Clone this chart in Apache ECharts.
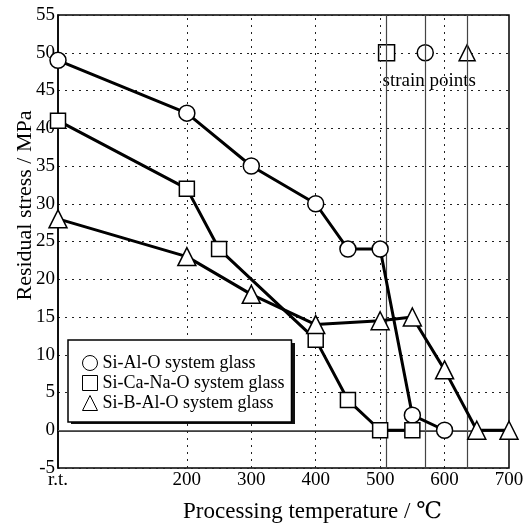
<!DOCTYPE html>
<html>
<head>
<meta charset="utf-8">
<script src="https://cdn.jsdelivr.net/npm/echarts@6/dist/echarts.min.js"></script>
<style>
  html, body { margin: 0; padding: 0; background: #fff; }
  #main { width: 529px; height: 526px; }
</style>
</head>
<body>
<div id="main"></div>
<script>
// data
var alTemps = [0, 200, 300, 400, 450, 500, 550, 600];
var alStress = [49, 42, 35, 30, 24, 24, 2, 0];
var caTemps = [0, 200, 250, 400, 450, 500, 550];
var caStress = [41, 32, 24, 12, 4, 0, 0];
var bTemps = [0, 200, 300, 400, 500, 550, 600, 650, 700];
var bStress = [28, 23, 18, 14, 14.5, 15, 8, 0, 0];
var strainTemps = [510, 570, 635];   // Si-Ca-Na-O, Si-Al-O, Si-B-Al-O
var strainSymbols = ['rect', 'circle', 'triangle'];
var strainY = 50;
var gridTemps = [200, 300, 400, 500, 600];
var seriesNames = ['Si-Al-O system glass', 'Si-Ca-Na-O system glass', 'Si-B-Al-O system glass'];

var serif = '"Liberation Serif", "DejaVu Serif", serif';

var chartDom = document.getElementById('main');
var myChart = echarts.init(chartDom);

function pairs(xs, ys) {
    return xs.map(function (x, i) { return [x, ys[i]]; });
}

function makeLine(name, xs, ys, symbol, size) {
    return {
        name: name,
        type: 'line',
        data: pairs(xs, ys),
        symbol: symbol,
        symbolSize: size,
        showAllSymbol: true,
        lineStyle: { color: '#000', width: 3 },
        itemStyle: { color: '#fff', borderColor: '#000', borderWidth: 1.5 },
        z: 5
    };
}

var legendIcon = { color: '#fff', borderColor: '#000', borderWidth: 1 };

var option = {
    animation: false,
    grid: {
        left: 58, top: 15, right: 20, bottom: 58,
        outerBoundsMode: 'none',
        show: true, borderColor: '#000', borderWidth: 1.5
    },
    xAxis: {
        type: 'value',
        min: 0, max: 700, interval: 100,
        name: 'Processing temperature / ℃',
        nameLocation: 'middle',
        nameGap: 32,
        nameMoveOverlap: false,
        nameTextStyle: { fontFamily: serif, fontSize: 23, color: '#000', padding: [0, 0, 0, 58] },
        axisLine: { show: true, lineStyle: { color: '#000', width: 1.5 } },
        axisTick: { show: false },
        splitLine: { show: false },
        axisLabel: {
            fontFamily: serif, fontSize: 19, color: '#000', margin: 3,
            formatter: function (v) {
                if (v === 0) return 'r.t.';
                if (v === 100) return '';
                return v;
            }
        }
    },
    yAxis: {
        type: 'value',
        min: -5, max: 55, interval: 5,
        name: 'Residual stress / MPa',
        nameLocation: 'middle',
        nameGap: 22,
        nameMoveOverlap: false,
        nameTextStyle: { fontFamily: serif, fontSize: 22, color: '#000', padding: [0, 0, 0, 72] },
        axisLine: { show: true, lineStyle: { color: '#000', width: 1.5 } },
        axisTick: { show: false },
        axisLabel: { fontFamily: serif, fontSize: 19, color: '#000', margin: 3 },
        splitLine: { show: true, lineStyle: { color: '#222', type: [2, 5], width: 1 } }
    },
    legend: {
        orient: 'vertical',
        left: 68, top: 340,
        z: 20,
        itemWidth: 15, itemHeight: 15, itemGap: 2,
        padding: [14, 7, 10, 14],
        backgroundColor: '#fff',
        borderColor: '#000', borderWidth: 1.5,
        textStyle: { fontFamily: serif, fontSize: 18, lineHeight: 18, color: '#000' },
        data: [
            { name: seriesNames[0], icon: 'circle', itemStyle: legendIcon },
            { name: seriesNames[1], icon: 'rect', itemStyle: legendIcon },
            { name: seriesNames[2], icon: 'triangle', itemStyle: legendIcon }
        ]
    },
    graphic: [
        // drop shadow behind the legend box
        { type: 'rect', left: 71, top: 343, z: 19, shape: { width: 224, height: 81 }, style: { fill: '#111' } }
    ],
    series: [
        {
            // grid lines, zero line and strain-point markers
            name: 'strain',
            type: 'scatter',
            silent: true,
            z: 3,
            data: strainTemps.map(function (t, i) {
                var d = { value: [t, strainY], symbol: strainSymbols[i] };
                if (i === 1) {
                    d.label = {
                        show: true, position: 'bottom', distance: 10, offset: [4, 0],
                        formatter: 'strain points',
                        fontFamily: serif, fontSize: 19, color: '#000'
                    };
                }
                return d;
            }),
            symbolSize: 16,
            itemStyle: { color: '#fff', borderColor: '#000', borderWidth: 1.5, opacity: 1 },
            markLine: {
                silent: true,
                symbol: 'none',
                label: { show: false },
                data: gridTemps.map(function (t) {
                    return { xAxis: t, lineStyle: { color: '#222', type: [2, 5], width: 1 } };
                }).concat(strainTemps.map(function (t) {
                    return { xAxis: t, lineStyle: { color: '#444', type: 'solid', width: 1.2 } };
                })).concat([
                    { yAxis: 0, lineStyle: { color: '#666', type: 'solid', width: 1 } }
                ])
            }
        },
        makeLine(seriesNames[0], alTemps, alStress, 'circle', 16),
        makeLine(seriesNames[1], caTemps, caStress, 'rect', 15),
        makeLine(seriesNames[2], bTemps, bStress, 'triangle', 18)
    ]
};

myChart.setOption(option);
</script>
</body>
</html>
